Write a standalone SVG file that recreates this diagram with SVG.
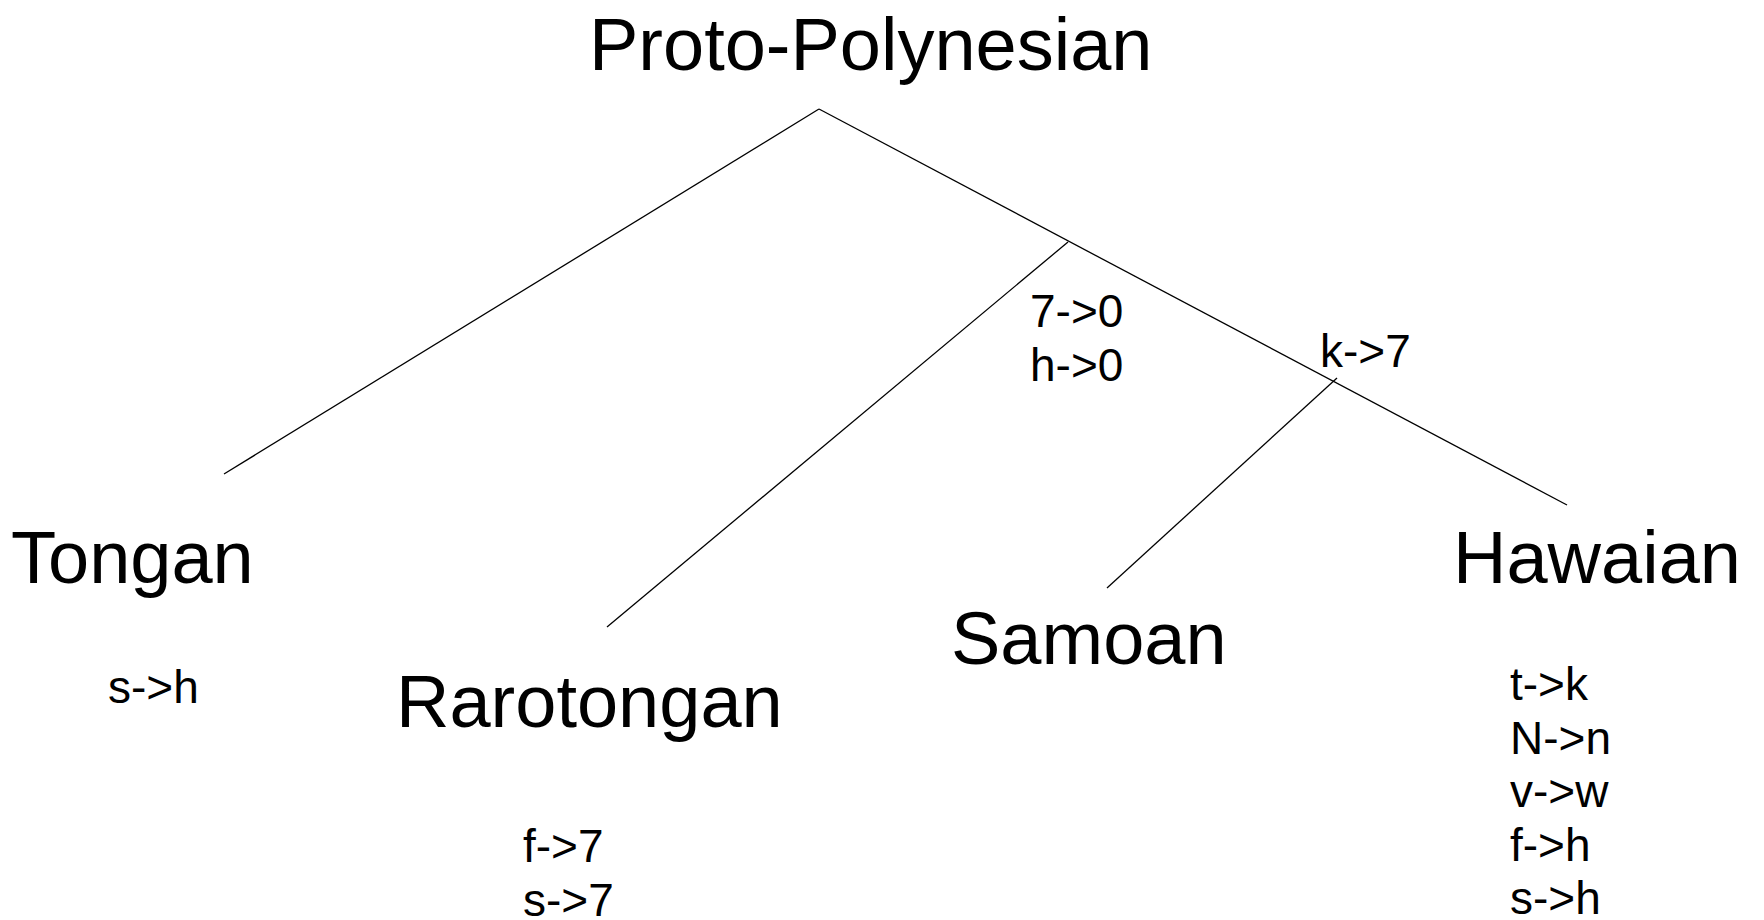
<svg xmlns="http://www.w3.org/2000/svg" width="1764" height="920" viewBox="0 0 1764 920">
  <style>
    text { font-family: "Liberation Sans", Arial, sans-serif; fill: #000; }
    .lang { font-size: 74px; }
    .rule { font-size: 46px; }
    .edge { stroke: #000; stroke-width: 1.3; fill: none; }
  </style>
  <rect width="1764" height="920" fill="#fff"/>

  <!-- tree branches -->
  <g id="connectors">
    <line class="edge" x1="819" y1="109" x2="224" y2="474"/>
    <line class="edge" x1="819" y1="109" x2="1567" y2="505"/>
    <line class="edge" x1="1068" y1="242" x2="607" y2="627"/>
    <line class="edge" x1="1337" y1="378" x2="1107" y2="588"/>
  </g>

  <g id="proto-polynesian">
    <text class="lang" x="589" y="70">Proto-Polynesian</text>
  </g>

  <g id="tongan">
    <text class="lang" x="11" y="583">Tongan</text>
    <text class="rule" x="108" y="703">s-&gt;h</text>
  </g>

  <g id="rarotongan">
    <text class="lang" x="396" y="727">Rarotongan</text>
    <text class="rule" x="523" y="862">f-&gt;7</text>
    <text class="rule" x="523" y="916">s-&gt;7</text>
  </g>

  <g id="samoan">
    <text class="lang" x="951" y="664">Samoan</text>
  </g>

  <g id="hawaiian">
    <text class="lang" x="1453" y="583">Hawaian</text>
    <text class="rule" x="1510" y="700">t-&gt;k</text>
    <text class="rule" x="1510" y="754">N-&gt;n</text>
    <text class="rule" x="1510" y="807">v-&gt;w</text>
    <text class="rule" x="1510" y="861">f-&gt;h</text>
    <text class="rule" x="1510" y="914">s-&gt;h</text>
  </g>

  <!-- changes on the inner branches -->
  <g id="branch-rules">
    <text class="rule" x="1030" y="327">7-&gt;0</text>
    <text class="rule" x="1030" y="381">h-&gt;0</text>
    <text class="rule" x="1320" y="367">k-&gt;7</text>
  </g>
</svg>
